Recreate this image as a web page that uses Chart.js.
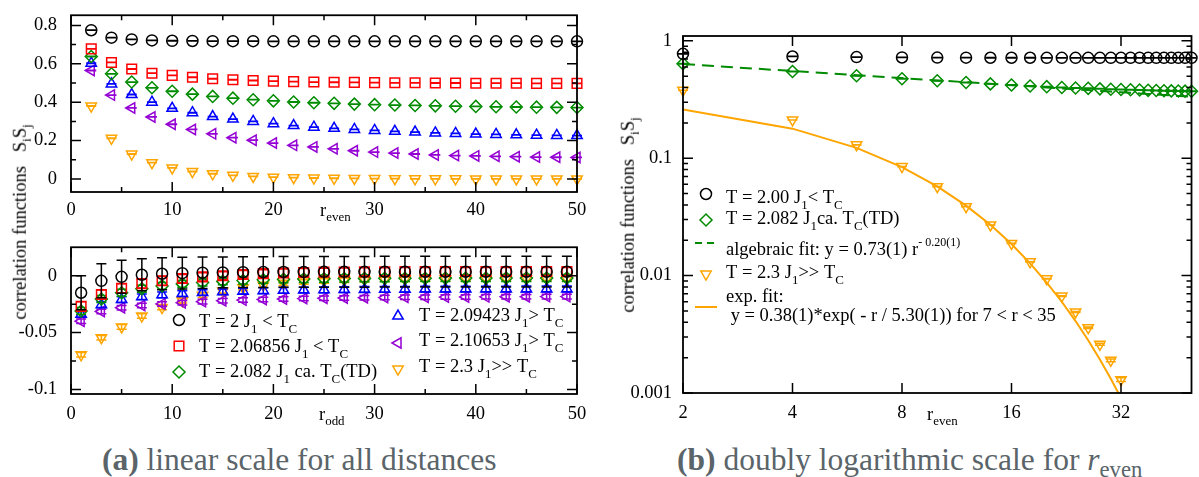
<!DOCTYPE html>
<html>
<head>
<meta charset="utf-8">
<script src="https://cdn.jsdelivr.net/npm/chart.js@4.4.0/dist/chart.umd.min.js"></script>
<style>
  html, body { margin: 0; padding: 0; background: #fff; }
  body { width: 1199px; height: 477px; position: relative; overflow: hidden;
         font-family: "Liberation Serif", "Times New Roman", serif; }
  .box { position: absolute; }
  .lbl { position: absolute; white-space: nowrap; line-height: 1; color: #000; font-size: 18.5px; }
  .sub { font-size: 0.7em; position: relative; top: 0.42em; }
  .rot { transform: translate(-50%, -50%) rotate(-90deg); }
  .cap { position: absolute; white-space: nowrap; line-height: 1; color: #5a6469; font-size: 31.5px; }
  .cap b { font-weight: bold; }
  .cap .csub { font-size: 0.72em; position: relative; top: 0.3em; }
</style>
</head>
<body>
<div class="box" style="left:0;top:0;width:600px;height:232px"><canvas id="cA"></canvas></div>
<div class="box" style="left:0;top:232px;width:600px;height:208px"><canvas id="cB"></canvas></div>
<div class="box" style="left:600px;top:0;width:599px;height:440px"><canvas id="cC"></canvas></div>

<div class="lbl rot" style="left:20px;top:222px">correlation functions&nbsp;&nbsp;&nbsp;S<span class="sub">i</span>S<span class="sub">j</span></div>
<div class="lbl rot" style="left:628px;top:215px">correlation functions&nbsp;&nbsp;&nbsp;S<span class="sub">i</span>S<span class="sub">j</span></div>
<div class="lbl" style="left:320px;top:201px">r<span class="sub">even</span></div>
<div class="lbl" style="left:319px;top:405px">r<span class="sub">odd</span></div>
<div class="lbl" style="left:927px;top:405px">r<span class="sub">even</span></div>

<div class="cap" style="left:102px;top:444px"><b>(a)</b> linear scale for all distances</div>
<div class="cap" style="left:677px;top:444px"><b>(b)</b> doubly logarithmic scale for <i>r</i><span class="csub">even</span></div>

<script>
// ---- distances ----
const rEven = [2, 4, 6, 8, 10, 12, 14, 16, 18, 20, 22, 24, 26, 28, 30, 32, 34, 36, 38, 40, 42, 44, 46, 48, 50];
const rOdd  = [1, 3, 5, 7, 9, 11, 13, 15, 17, 19, 21, 23, 25, 27, 29, 31, 33, 35, 37, 39, 41, 43, 45, 47, 49];

// ---- <S_i S_j> at even distances ----
const evenT200     = [0.775, 0.736, 0.727, 0.722, 0.720, 0.719, 0.718, 0.718, 0.718, 0.717, 0.717, 0.717, 0.717, 0.717, 0.717, 0.717, 0.717, 0.717, 0.717, 0.717, 0.717, 0.717, 0.717, 0.717, 0.717];
const evenT206856  = [0.678, 0.607, 0.573, 0.551, 0.540, 0.530, 0.522, 0.517, 0.513, 0.510, 0.507, 0.505, 0.504, 0.503, 0.502, 0.501, 0.501, 0.500, 0.500, 0.499, 0.499, 0.499, 0.498, 0.498, 0.498];
const evenT2082    = [0.638, 0.548, 0.505, 0.475, 0.457, 0.442, 0.430, 0.421, 0.413, 0.407, 0.401, 0.397, 0.394, 0.390, 0.387, 0.385, 0.383, 0.381, 0.379, 0.378, 0.376, 0.375, 0.374, 0.373, 0.372];
const evenT209423  = [0.603, 0.495, 0.440, 0.400, 0.368, 0.345, 0.325, 0.312, 0.300, 0.288, 0.278, 0.270, 0.264, 0.258, 0.253, 0.248, 0.244, 0.240, 0.237, 0.234, 0.232, 0.230, 0.228, 0.227, 0.226];
const evenT210653  = [0.565, 0.437, 0.370, 0.323, 0.285, 0.258, 0.235, 0.215, 0.202, 0.187, 0.175, 0.167, 0.157, 0.147, 0.140, 0.135, 0.130, 0.125, 0.122, 0.120, 0.118, 0.116, 0.114, 0.113, 0.112];
const evenT23      = [0.380, 0.212, 0.130, 0.085, 0.0573, 0.0387, 0.0270, 0.0188, 0.0131, 0.0094, 0.0067, 0.0049, 0.0036, 0.0026, 0.0019, 0.0013, 0.0008, 0.0006, 0.0004, 0.0003, 0.0002, 0.0002, 0.0001, 0.0001, 0.0001];

// ---- <S_i S_j> at odd distances, with statistical errors ----
const oddT200      = [-0.0150, -0.0045, -0.0010, 0.0008, 0.0017, 0.0022, 0.0026, 0.0029, 0.0031, 0.0032, 0.0033, 0.0033, 0.0034, 0.0034, 0.0034, 0.0035, 0.0035, 0.0035, 0.0035, 0.0035, 0.0035, 0.0035, 0.0035, 0.0035, 0.0035];
const oddErrT200   = [0.0150, 0.0150, 0.0145, 0.0140, 0.0140, 0.0140, 0.0138, 0.0136, 0.0135, 0.0135, 0.0135, 0.0135, 0.0135, 0.0135, 0.0135, 0.0135, 0.0135, 0.0135, 0.0135, 0.0135, 0.0135, 0.0135, 0.0135, 0.0135, 0.0135];
const oddT206856   = [-0.0270, -0.0165, -0.0110, -0.0070, -0.0045, -0.0025, -0.0010, 0.0000, 0.0010, 0.0018, 0.0024, 0.0028, 0.0031, 0.0033, 0.0034, 0.0035, 0.0036, 0.0036, 0.0037, 0.0037, 0.0037, 0.0037, 0.0037, 0.0037, 0.0037];
const oddErrT206856= [0.0040, 0.0040, 0.0040, 0.0038, 0.0038, 0.0036, 0.0036, 0.0035, 0.0035, 0.0035, 0.0035, 0.0035, 0.0035, 0.0035, 0.0035, 0.0035, 0.0035, 0.0035, 0.0035, 0.0035, 0.0035, 0.0035, 0.0035, 0.0035, 0.0035];
const oddT2082     = [-0.0310, -0.0205, -0.0150, -0.0115, -0.0090, -0.0072, -0.0060, -0.0050, -0.0042, -0.0036, -0.0032, -0.0029, -0.0027, -0.0025, -0.0024, -0.0023, -0.0022, -0.0022, -0.0021, -0.0021, -0.0021, -0.0020, -0.0020, -0.0020, -0.0020];
const oddErrT2082  = [0.0030, 0.0030, 0.0030, 0.0030, 0.0030, 0.0030, 0.0030, 0.0030, 0.0030, 0.0030, 0.0030, 0.0030, 0.0030, 0.0030, 0.0030, 0.0030, 0.0030, 0.0030, 0.0030, 0.0030, 0.0030, 0.0030, 0.0030, 0.0030, 0.0030];
const oddT209423   = [-0.0340, -0.0255, -0.0210, -0.0185, -0.0168, -0.0157, -0.0148, -0.0141, -0.0136, -0.0132, -0.0129, -0.0126, -0.0124, -0.0122, -0.0121, -0.0120, -0.0119, -0.0118, -0.0118, -0.0117, -0.0117, -0.0117, -0.0116, -0.0116, -0.0116];
const oddErrT209423= [0.0025, 0.0025, 0.0025, 0.0025, 0.0025, 0.0025, 0.0025, 0.0025, 0.0025, 0.0025, 0.0025, 0.0025, 0.0025, 0.0025, 0.0025, 0.0025, 0.0025, 0.0025, 0.0025, 0.0025, 0.0025, 0.0025, 0.0025, 0.0025, 0.0025];
const oddT210653   = [-0.0400, -0.0315, -0.0282, -0.0262, -0.0248, -0.0237, -0.0228, -0.0220, -0.0214, -0.0209, -0.0205, -0.0201, -0.0198, -0.0196, -0.0194, -0.0192, -0.0190, -0.0189, -0.0188, -0.0187, -0.0186, -0.0185, -0.0185, -0.0184, -0.0184];
const oddErrT210653= [0.0020, 0.0020, 0.0020, 0.0020, 0.0020, 0.0020, 0.0020, 0.0020, 0.0020, 0.0020, 0.0020, 0.0020, 0.0020, 0.0020, 0.0020, 0.0020, 0.0020, 0.0020, 0.0020, 0.0020, 0.0020, 0.0020, 0.0020, 0.0020, 0.0020];
const oddT23       = [-0.0695, -0.0545, -0.0450, -0.0355, -0.0280, -0.0220, -0.0172, -0.0135, -0.0105, -0.0083, -0.0067, -0.0055, -0.0046, -0.0040, -0.0035, -0.0032, -0.0030, -0.0028, -0.0027, -0.0026, -0.0026, -0.0025, -0.0025, -0.0025, -0.0025];
const oddErrT23    = [0.0020, 0.0020, 0.0020, 0.0020, 0.0020, 0.0020, 0.0020, 0.0020, 0.0020, 0.0020, 0.0020, 0.0020, 0.0020, 0.0020, 0.0020, 0.0020, 0.0020, 0.0020, 0.0020, 0.0020, 0.0020, 0.0020, 0.0020, 0.0020, 0.0020];

// ---- fits evaluated at the even distances ----
// algebraic: y = 0.73 r^-0.20
const fitAlgebraic = [0.6355, 0.5533, 0.5101, 0.4817, 0.4606, 0.4441, 0.4306, 0.4193, 0.4095, 0.4010, 0.3934, 0.3866, 0.3805, 0.3749, 0.3697, 0.3650, 0.3606, 0.3565, 0.3527, 0.3491, 0.3457, 0.3425, 0.3395, 0.3367, 0.3338];
// exponential: y = 0.38 exp(-r / 5.30)
const rExpFit = [2, 4, 6, 8, 10, 12, 14, 16, 18, 20, 22, 24, 26, 28, 30, 32];
const fitExp  = [0.2606, 0.1787, 0.1225, 0.0840, 0.0576, 0.0395, 0.02708, 0.01857, 0.01273, 0.00873, 0.00599, 0.00410, 0.002813, 0.001929, 0.001323, 0.000907];

// ---- tick values and labels ----
const linTicksX   = [0, 10, 20, 30, 40, 50];
const linLabelsX  = ['0', '10', '20', '30', '40', '50'];
const linMinorX   = [5, 15, 25, 35, 45];
const topTicksY   = [0, 0.2, 0.4, 0.6, 0.8];
const topLabelsY  = ['0', '0.2', '0.4', '0.6', '0.8'];
const topMinorY   = [0.1, 0.3, 0.5, 0.7];
const botTicksY   = [-0.1, -0.05, 0];
const botLabelsY  = ['-0.1', '-0.05', '0'];
const botMinorY   = [-0.075, -0.025];
const logTicksX   = [2, 4, 8, 16, 32];
const logLabelsX  = ['2', '4', '8', '16', '32'];
const logTicksY   = [0.001, 0.01, 0.1, 1];
const logLabelsY  = ['0.001', '0.01', '0.1', '1'];
const logMinorY   = [0.002, 0.003, 0.004, 0.005, 0.006, 0.007, 0.008, 0.009,
                     0.02, 0.03, 0.04, 0.05, 0.06, 0.07, 0.08, 0.09,
                     0.2, 0.3, 0.4, 0.5, 0.6, 0.7, 0.8, 0.9];

// ---- styling ----
const FONT = '"Liberation Serif", "Times New Roman", serif';
const FS = 18.5;
const C = { black: '#000000', red: '#ff0000', green: '#008b00', blue: '#0000ff', violet: '#9400d3', orange: '#ffa500' };
const BW = 1.5;

Chart.defaults.font.family = FONT;
Chart.defaults.color = '#000';

function pts(xs, ys) { return xs.map((x, i) => ({ x, y: ys[i] })); }

function marker(label, xs, ys, color, style, radius, rotation, errors, clip) {
  return {
    label, data: pts(xs, ys), showLine: false,
    pointStyle: style, pointRadius: radius, pointHoverRadius: radius, pointRotation: rotation || 0,
    borderColor: color, backgroundColor: 'rgba(0,0,0,0)', pointBorderWidth: BW, borderWidth: BW,
    errors, clip: clip === undefined ? false : clip
  };
}

// inward major/minor ticks on all four sides plus the box
function frame(cfg) {
  return {
    id: 'frame',
    afterDatasetsDraw(chart) {
      const { ctx, chartArea: a, scales: { x, y } } = chart;
      ctx.save();
      ctx.strokeStyle = '#000';
      ctx.lineWidth = 1.5;
      ctx.beginPath();
      const xt = (vals, len) => vals.forEach(v => {
        const p = x.getPixelForValue(v);
        if (p < a.left - 0.5 || p > a.right + 0.5) return;
        ctx.moveTo(p, a.bottom); ctx.lineTo(p, a.bottom - len);
        ctx.moveTo(p, a.top); ctx.lineTo(p, a.top + len);
      });
      const yt = (vals, len) => vals.forEach(v => {
        const p = y.getPixelForValue(v);
        if (p < a.top - 0.5 || p > a.bottom + 0.5) return;
        ctx.moveTo(a.left, p); ctx.lineTo(a.left + len, p);
        ctx.moveTo(a.right, p); ctx.lineTo(a.right - len, p);
      });
      xt(cfg.xMajor, 10); xt(cfg.xMinor || [], 5);
      yt(cfg.yMajor, 10); yt(cfg.yMinor || [], 5);
      ctx.stroke();
      ctx.lineWidth = 1.8;
      ctx.strokeRect(a.left, a.top, a.right - a.left, a.bottom - a.top);
      ctx.restore();
    }
  };
}

// vertical error bars with caps, drawn right after each data set
const errorBars = {
  id: 'errorBars',
  afterDatasetDraw(chart, args) {
    const ds = chart.data.datasets[args.index];
    if (ds.errors == null) return;
    const ys = chart.scales.y, a = chart.chartArea, ctx = chart.ctx;
    const isLog = ys.type === 'logarithmic';
    ctx.save();
    ctx.strokeStyle = ds.borderColor;
    ctx.lineWidth = BW;
    ctx.beginPath();
    args.meta.data.forEach((pt, i) => {
      if (!isFinite(pt.y) || pt.y > a.bottom || pt.y < a.top - 8) return;
      const v = ds.data[i].y;
      const e = Array.isArray(ds.errors) ? ds.errors[i] : ds.errors;
      const y1 = ys.getPixelForValue(v + e);
      const y2 = ys.getPixelForValue(isLog && v - e <= 0 ? ys.min : v - e);
      const w = 5;
      ctx.moveTo(pt.x, y1); ctx.lineTo(pt.x, y2);
      ctx.moveTo(pt.x - w, y1); ctx.lineTo(pt.x + w, y1);
      ctx.moveTo(pt.x - w, y2); ctx.lineTo(pt.x + w, y2);
    });
    ctx.stroke();
    ctx.restore();
  }
};

// text runs with sub- and superscripts
function drawRich(ctx, parts, x, y, size) {
  let cx = x;
  ctx.fillStyle = '#000';
  ctx.textBaseline = 'alphabetic';
  ctx.textAlign = 'left';
  for (const p of parts) {
    const [t, mode] = typeof p === 'string' ? [p, 'n'] : p;
    const fs = mode === 'sub' ? size * 0.7 : mode === 'sup' ? size * 0.65 : size;
    const dy = mode === 'sub' ? size * 0.32 : mode === 'sup' ? -size * 0.5 : 0;
    ctx.font = fs + 'px ' + FONT;
    ctx.fillText(t, cx, y + dy);
    cx += ctx.measureText(t).width;
  }
}

function keyBox(items, size) {
  return {
    id: 'keyBox',
    afterDraw(chart) {
      const ctx = chart.ctx;
      for (const it of items) {
        ctx.save();
        if (it.marker) {
          ctx.strokeStyle = it.color;
          ctx.fillStyle = 'rgba(0,0,0,0)';
          ctx.lineWidth = BW;
          Chart.helpers.drawPoint(ctx, { pointStyle: it.marker, radius: it.radius, rotation: it.rotation || 0, borderWidth: BW }, it.sx, it.sy);
        }
        if (it.line) {
          ctx.strokeStyle = it.color;
          ctx.lineWidth = 2;
          ctx.setLineDash(it.dash || []);
          ctx.beginPath();
          ctx.moveTo(it.line[0], it.line[2]);
          ctx.lineTo(it.line[1], it.line[2]);
          ctx.stroke();
          ctx.setLineDash([]);
        }
        for (const row of it.rows) drawRich(ctx, row.parts, row.x, row.y, size);
        ctx.restore();
      }
    }
  };
}

function fixedTicks(values) {
  return s => { s.ticks = values.map(v => ({ value: v })); };
}

function axisX(type, min, max, values, labels, pad) {
  return {
    type, min, max,
    grid: { display: false }, border: { display: false },
    afterBuildTicks: fixedTicks(values),
    afterFit: s => { s.height = 30; },
    ticks: { autoSkip: false, maxRotation: 0, padding: pad, color: '#000',
             font: { family: FONT, size: FS, lineHeight: 1 },
             callback: (v, i) => labels[i] }
  };
}
function axisY(type, min, max, values, labels, width, pad) {
  return {
    type, min, max,
    grid: { display: false }, border: { display: false },
    afterBuildTicks: fixedTicks(values),
    afterFit: s => { s.width = width; },
    ticks: { autoSkip: false, padding: pad, color: '#000',
             font: { family: FONT, size: FS, lineHeight: 1 },
             callback: (v, i) => labels[i] }
  };
}

const common = {
  responsive: true, maintainAspectRatio: false, animation: false,
  devicePixelRatio: 1, events: [],
  plugins: { legend: { display: false }, tooltip: { enabled: false } }
};

// ===== (a) top: even distances, linear =====
new Chart(document.getElementById('cA'), {
  type: 'scatter',
  data: { datasets: [
    marker('T = 2', rEven, evenT200, C.black, 'circle', 5.5, 0, 0.0008),
    marker('T = 2.06856', rEven, evenT206856, C.red, 'rect', 6.8, 0, 0.0008),
    marker('T = 2.082', rEven, evenT2082, C.green, 'rectRot', 6, 0, 0.0008),
    marker('T = 2.09423', rEven, evenT209423, C.blue, 'triangle', 6, 0, 0.0008),
    marker('T = 2.10653', rEven, evenT210653, C.violet, 'triangle', 6, -90, 0.0008),
    marker('T = 2.3', rEven, evenT23, C.orange, 'triangle', 6, 180, 0.0008)
  ] },
  options: { ...common,
    layout: { padding: { left: 0, right: 23, top: 8, bottom: 10 } },
    scales: {
      x: axisX('linear', 0, 50, linTicksX, linLabelsX, 1),
      y: axisY('linear', -0.068, 0.853, topTicksY, topLabelsY, 71, 6)
    }
  },
  plugins: [errorBars, frame({ xMajor: linTicksX, xMinor: linMinorX, yMajor: topTicksY, yMinor: topMinorY })]
});

// ===== (a) bottom: odd distances, linear =====
new Chart(document.getElementById('cB'), {
  type: 'scatter',
  data: { datasets: [
    marker('T = 2', rOdd, oddT200, C.black, 'circle', 5.5, 0, oddErrT200),
    marker('T = 2.06856', rOdd, oddT206856, C.red, 'rect', 6.8, 0, oddErrT206856),
    marker('T = 2.082', rOdd, oddT2082, C.green, 'rectRot', 6, 0, oddErrT2082),
    marker('T = 2.09423', rOdd, oddT209423, C.blue, 'triangle', 6, 0, oddErrT209423),
    marker('T = 2.10653', rOdd, oddT210653, C.violet, 'triangle', 6, -90, oddErrT210653),
    marker('T = 2.3', rOdd, oddT23, C.orange, 'triangle', 6, 180, oddErrT23)
  ] },
  options: { ...common,
    layout: { padding: { left: 0, right: 23, top: 7, bottom: 16 } },
    scales: {
      x: axisX('linear', 0, 50, linTicksX, linLabelsX, 3),
      y: axisY('linear', -0.104, 0.025, botTicksY, botLabelsY, 71, 6)
    }
  },
  plugins: [errorBars, frame({ xMajor: linTicksX, xMinor: linMinorX, yMajor: botTicksY, yMinor: botMinorY }),
    keyBox([
      { marker: 'circle', radius: 5.5, color: C.black, sx: 179, sy: 88,
        rows: [{ x: 199, y: 95, parts: ['T = 2 J', ['1', 'sub'], ' < T', ['C', 'sub']] }] },
      { marker: 'rect', radius: 6.8, color: C.red, sx: 179, sy: 114,
        rows: [{ x: 199, y: 120, parts: ['T = 2.06856 J', ['1', 'sub'], ' < T', ['C', 'sub']] }] },
      { marker: 'rectRot', radius: 6, color: C.green, sx: 179, sy: 140,
        rows: [{ x: 199, y: 145, parts: ['T = 2.082 J', ['1', 'sub'], ' ca. T', ['C', 'sub'], '(TD)'] }] },
      { marker: 'triangle', radius: 6, color: C.blue, sx: 398, sy: 84,
        rows: [{ x: 419, y: 89, parts: ['T = 2.09423 J', ['1', 'sub'], '> T', ['C', 'sub']] }] },
      { marker: 'triangle', radius: 6, rotation: -90, color: C.violet, sx: 398, sy: 111,
        rows: [{ x: 419, y: 114, parts: ['T = 2.10653 J', ['1', 'sub'], '> T', ['C', 'sub']] }] },
      { marker: 'triangle', radius: 6, rotation: 180, color: C.orange, sx: 398, sy: 137,
        rows: [{ x: 419, y: 140, parts: ['T = 2.3 J', ['1', 'sub'], '>> T', ['C', 'sub']] }] }
    ], FS)]
});

// ===== (b) even distances, log-log =====
new Chart(document.getElementById('cC'), {
  type: 'scatter',
  data: { datasets: [
    marker('T = 2.00', rEven, evenT200, C.black, 'circle', 5.5, 0, 0.002),
    marker('T = 2.082', rEven, evenT2082, C.green, 'rectRot', 6, 0, 0.002),
    { label: 'algebraic fit', data: pts(rEven, fitAlgebraic), showLine: true, pointRadius: 0,
      borderColor: C.green, borderWidth: 2, borderDash: [12, 7], clip: 2 },
    marker('T = 2.3', rEven, evenT23, C.orange, 'triangle', 6, 180, 0.00005, { left: 10, top: 10, right: 10, bottom: 0 }),
    { label: 'exp. fit', data: pts(rExpFit, fitExp), showLine: true, pointRadius: 0,
      borderColor: C.orange, borderWidth: 2, clip: 0 }
  ] },
  options: { ...common,
    layout: { padding: { left: 0, right: 6, top: 36, bottom: 17 } },
    scales: {
      x: axisX('logarithmic', 2, 50, logTicksX, logLabelsX, 3),
      y: axisY('logarithmic', 0.001, 1.1, logTicksY, logLabelsY, 83, 3)
    }
  },
  plugins: [errorBars, frame({ xMajor: logTicksX, xMinor: [], yMajor: logTicksY, yMinor: logMinorY }),
    keyBox([
      { marker: 'circle', radius: 5.5, color: C.black, sx: 106, sy: 194,
        rows: [{ x: 126, y: 203, parts: ['T = 2.00 J', ['1', 'sub'], '< T', ['C', 'sub']] }] },
      { marker: 'rectRot', radius: 6, color: C.green, sx: 106, sy: 220,
        rows: [{ x: 126, y: 224, parts: ['T = 2.082 J', ['1', 'sub'], 'ca. T', ['C', 'sub'], '(TD)'] }] },
      { line: [95, 117, 243], dash: [7, 5], color: C.green,
        rows: [{ x: 126, y: 255, parts: ['algebraic fit: y = 0.73(1) r', ['- 0.20(1)', 'sup']] }] },
      { marker: 'triangle', radius: 6, rotation: 180, color: C.orange, sx: 106, sy: 274,
        rows: [{ x: 126, y: 278, parts: ['T = 2.3 J', ['1', 'sub'], '>> T', ['C', 'sub']] }] },
      { line: [95, 117, 307], color: C.orange,
        rows: [{ x: 126, y: 302, parts: ['exp. fit:'] },
               { x: 126, y: 321, parts: [' y = 0.38(1)*exp( - r / 5.30(1)) for 7 < r < 35'] }] }
    ], FS)]
});
</script>
</body>
</html>
